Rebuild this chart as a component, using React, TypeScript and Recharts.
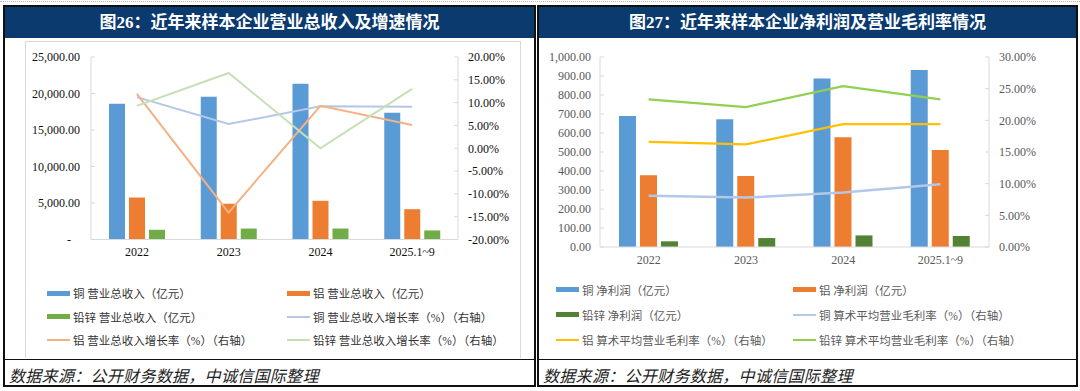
import { ComposedChart, Bar, Line, XAxis, YAxis, Legend } from 'recharts';

const categories = ['2022', '2023', '2024', '2025.1~9'];

// 图26 营业总收入（亿元）及增长率（%）
const cuRevenue = [18600, 19550, 21350, 17350];
const alRevenue = [5750, 4900, 5300, 4150];
const pzRevenue = [1330, 1500, 1500, 1240];
const cuRevenueGrowth = [11.2, 5.3, 9.2, 9.1];
const alRevenueGrowth = [11.9, -14.1, 9.3, 5.1];
const pzRevenueGrowth = [9.3, 16.5, 0.0, 13.0];

// 图27 净利润（亿元）及算术平均营业毛利率（%）
const cuProfit = [690, 673, 887, 931];
const alProfit = [378, 374, 577, 510];
const pzProfit = [30, 47, 61, 58];
const cuMargin = [8.1, 7.8, 8.6, 9.9];
const alMargin = [16.6, 16.2, 19.4, 19.4];
const pzMargin = [23.3, 22.1, 25.4, 23.3];

const revenueTicks = [0, 5000, 10000, 15000, 20000, 25000];
const growthTicks = [-20, -15, -10, -5, 0, 5, 10, 15, 20];
const profitTicks = [0, 100, 200, 300, 400, 500, 600, 700, 800, 900, 1000];
const marginTicks = [0, 5, 10, 15, 20, 25, 30];

const data26 = categories.map((name, i) => ({
  name,
  cuRev: cuRevenue[i],
  alRev: alRevenue[i],
  pzRev: pzRevenue[i],
  cuG: cuRevenueGrowth[i],
  alG: alRevenueGrowth[i],
  pzG: pzRevenueGrowth[i],
}));

const data27 = categories.map((name, i) => ({
  name,
  cuP: cuProfit[i],
  alP: alProfit[i],
  pzP: pzProfit[i],
  cuM: cuMargin[i],
  alM: alMargin[i],
  pzM: pzMargin[i],
}));

const order26 = ['cuRev', 'alRev', 'pzRev', 'cuG', 'alG', 'pzG'];
const order27 = ['cuP', 'alP', 'pzP', 'cuM', 'alM', 'pzM'];

const SERIF = '"Liberation Serif", "Times New Roman", serif';
const CJK = '"Liberation Serif", "Noto Sans CJK SC", sans-serif';
const NAVY = '#0b3a6e';

const fmt2 = (v: number) =>
  v.toLocaleString('en-US', { minimumFractionDigits: 2, maximumFractionDigits: 2 });
const pct = (v: number) => `${v.toFixed(2)}%`;

const DashTick = (props: any) => {
  const { x, y, payload } = props;
  const zero = payload.value === 0;
  return (
    <text x={zero ? x - 9 : x} y={y} dy="0.355em" textAnchor="end"
      fontFamily={SERIF} fontSize={12} fill="#111">
      {zero ? '-' : fmt2(payload.value)}
    </text>
  );
};

const LegendGrid = ({ payload, cols, rowH, color, width, order }: any) => {
  const items = [...(payload || [])].sort(
    (a: any, b: any) => order.indexOf(a.dataKey) - order.indexOf(b.dataKey)
  );
  return (
    <div style={{ position: 'relative', width, height: rowH * 3 }}>
      {items.map((p: any, i: number) => (
        <div key={p.value} style={{
          position: 'absolute', left: cols[i % 2], top: Math.floor(i / 2) * rowH,
          height: rowH, display: 'flex', alignItems: 'center', whiteSpace: 'nowrap',
        }}>
          <span style={{
            display: 'inline-block', width: 23, height: p.type === 'line' ? 2 : 5,
            background: p.color, marginRight: 3,
          }} />
          <span style={{ fontFamily: CJK, fontSize: 11.5, color }}>{p.value}</span>
        </div>
      ))}
    </div>
  );
};

function Panel({ left, width, title }: { left: number; width: number; title: string }) {
  return (
    <div style={{
      position: 'absolute', left, top: 5, width, height: 382,
      border: '2px solid #111', boxSizing: 'border-box',
    }}>
      <div style={{
        height: 31, background: NAVY, color: '#fff', textAlign: 'center',
        lineHeight: '31px', fontFamily: CJK, fontSize: 17, fontWeight: 600,
      }}>{title}</div>
      <div style={{ position: 'absolute', left: 0, right: 0, top: 352, borderTop: '1.5px solid #111' }} />
      <div style={{
        position: 'absolute', left: 4, top: 356, fontFamily: '"Noto Sans CJK SC", sans-serif',
        fontStyle: 'italic', fontSize: 16, color: '#222', letterSpacing: 0.3,
      }}>数据来源：公开财务数据，中诚信国际整理</div>
    </div>
  );
}

export default function App() {
  return (
    <div style={{ position: 'absolute', left: 0, top: 0, width: 1080, height: 391, background: '#fff', overflow: 'hidden' }}>
      <div style={{ position: 'absolute', left: 0, right: 0, top: 1, borderTop: '1px dotted #bbb' }} />
      <Panel left={3} width={533} title="图26：近年来样本企业营业总收入及增速情况" />
      <Panel left={537} width={541} title="图27：近年来样本企业净利润及营业毛利率情况" />
      <div style={{
        position: 'absolute', left: 25, top: 41, width: 494, height: 316,
        borderLeft: '1px solid #d9d9d9', borderTop: '1px solid #d9d9d9', borderRight: '1px solid #d9d9d9',
      }} />

      <div style={{ position: 'absolute', left: 0, top: 40 }}>
        <ComposedChart width={535} height={317} data={data26}
          margin={{ top: 17, right: 0, left: 0, bottom: 5 }} barSize={16} barGap={4}>
          <XAxis dataKey="name" height={42} tickLine={false} axisLine={{ stroke: '#d9d9d9' }}
            tick={{ fontFamily: SERIF, fontSize: 12, fill: '#111' }} />
          <YAxis yAxisId="left" width={91} domain={[0, 25000]} ticks={revenueTicks}
            axisLine={{ stroke: '#d9d9d9' }} tickLine={{ stroke: '#d9d9d9' }} tickSize={-4} tickMargin={15}
            tick={<DashTick />} interval={0} />
          <YAxis yAxisId="right" orientation="right" width={77} domain={[-20, 20]} ticks={growthTicks}
            axisLine={{ stroke: '#d9d9d9' }} tickLine={{ stroke: '#d9d9d9' }} tickSize={-4} tickMargin={14}
            tickFormatter={pct} interval={0}
            tick={{ fontFamily: SERIF, fontSize: 12, fill: '#111' }} />
          <Bar yAxisId="left" dataKey="cuRev" name="铜 营业总收入（亿元）" fill="#5b9bd5" isAnimationActive={false} />
          <Bar yAxisId="left" dataKey="alRev" name="铝 营业总收入（亿元）" fill="#ed7d31" isAnimationActive={false} />
          <Bar yAxisId="left" dataKey="pzRev" name="铅锌 营业总收入（亿元）" fill="#70ad47" isAnimationActive={false} />
          <Line yAxisId="right" dataKey="cuG" name="铜 营业总收入增长率（%）（右轴）" stroke="#b4c7e7"
            strokeWidth={2} dot={false} type="linear" isAnimationActive={false} />
          <Line yAxisId="right" dataKey="alG" name="铝 营业总收入增长率（%）（右轴）" stroke="#f4b183"
            strokeWidth={2} dot={false} type="linear" isAnimationActive={false} />
          <Line yAxisId="right" dataKey="pzG" name="铅锌 营业总收入增长率（%）（右轴）" stroke="#c5e0b4"
            strokeWidth={2} dot={false} type="linear" isAnimationActive={false} />
          <Legend verticalAlign="bottom" wrapperStyle={{ left: 0, width: 535, margin: 0, padding: 0 }}
            content={(props: any) => (
              <LegendGrid {...props} order={order26} cols={[47, 287]} rowH={23.5} color="#333" width={535} />
            )} />
        </ComposedChart>
      </div>

      <div style={{ position: 'absolute', left: 537, top: 40 }}>
        <ComposedChart width={543} height={317} data={data27}
          margin={{ top: 17, right: 0, left: 0, bottom: 5 }} barSize={17} barGap={4}>
          <XAxis dataKey="name" height={30} tickLine={false} axisLine={{ stroke: '#d9d9d9' }}
            tick={{ fontFamily: SERIF, fontSize: 12, fill: '#595959' }} />
          <YAxis yAxisId="left" width={63} domain={[0, 1000]} ticks={profitTicks}
            axisLine={{ stroke: '#d9d9d9' }} tickLine={{ stroke: '#d9d9d9' }} tickSize={-4} tickMargin={13}
            tickFormatter={fmt2} interval={0}
            tick={{ fontFamily: SERIF, fontSize: 12, fill: '#595959' }} />
          <YAxis yAxisId="right" orientation="right" width={91} domain={[0, 30]} ticks={marginTicks}
            axisLine={{ stroke: '#d9d9d9' }} tickLine={{ stroke: '#d9d9d9' }} tickSize={-4} tickMargin={14}
            tickFormatter={pct} interval={0}
            tick={{ fontFamily: SERIF, fontSize: 12, fill: '#595959' }} />
          <Bar yAxisId="left" dataKey="cuP" name="铜 净利润（亿元）" fill="#5b9bd5" isAnimationActive={false} />
          <Bar yAxisId="left" dataKey="alP" name="铝 净利润（亿元）" fill="#ed7d31" isAnimationActive={false} />
          <Bar yAxisId="left" dataKey="pzP" name="铅锌 净利润（亿元）" fill="#548235" isAnimationActive={false} />
          <Line yAxisId="right" dataKey="cuM" name="铜 算术平均营业毛利率（%）（右轴）" stroke="#b4c7e7"
            strokeWidth={2.5} dot={false} type="linear" isAnimationActive={false} />
          <Line yAxisId="right" dataKey="alM" name="铝 算术平均营业毛利率（%）（右轴）" stroke="#ffc000"
            strokeWidth={2.25} dot={false} type="linear" isAnimationActive={false} />
          <Line yAxisId="right" dataKey="pzM" name="铅锌 算术平均营业毛利率（%）（右轴）" stroke="#92d050"
            strokeWidth={2.25} dot={false} type="linear" isAnimationActive={false} />
          <Legend verticalAlign="bottom" wrapperStyle={{ left: 0, width: 543, margin: 0, padding: 0 }}
            content={(props: any) => (
              <LegendGrid {...props} order={order27} cols={[19, 256]} rowH={25} color="#595959" width={543} />
            )} />
        </ComposedChart>
      </div>
    </div>
  );
}
